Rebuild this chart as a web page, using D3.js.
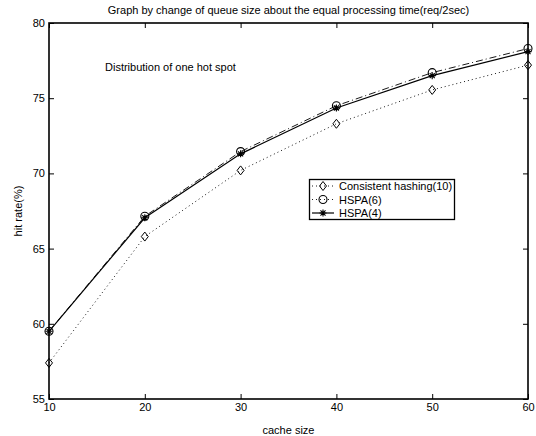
<!DOCTYPE html>
<html>
<head>
<meta charset="utf-8">
<script src="https://cdn.jsdelivr.net/npm/d3@7"></script>
<style>
  html, body { margin: 0; padding: 0; background: #fff; }
  svg { display: block; font-family: "Liberation Sans", Arial, sans-serif; }
</style>
</head>
<body>
<svg id="chart" width="536" height="436"></svg>
<script>
// Hit rate versus cache size for three placement schemes
const cacheSizes = [10, 20, 30, 40, 50, 60];
const consistentHashing = [57.4, 65.8, 70.2, 73.3, 75.55, 77.2];
const hspa6 = [59.5, 67.15, 71.45, 74.5, 76.7, 78.3];
const hspa4 = [59.5, 67.05, 71.3, 74.35, 76.5, 78.1];
const xTicks = [10, 20, 30, 40, 50, 60];
const yTicks = [55, 60, 65, 70, 75, 80];

const series = [
  { name: "Consistent hashing(10)", values: consistentHashing, dash: "1,3", marker: "diamond" },
  { name: "HSPA(6)", values: hspa6, dash: "7,3,1,3", marker: "circle" },
  { name: "HSPA(4)", values: hspa4, dash: null, marker: "star" }
];

const svg = d3.select("#chart");
const m = { left: 49, right: 528, top: 23, bottom: 399 };

const x = d3.scaleLinear().domain([10, 60]).range([m.left, m.right]);
const y = d3.scaleLinear().domain([55, 80]).range([m.bottom, m.top]);

const tickLen = 5;

// Axes: labelled bottom/left, unlabelled mirror ticks on top/right
svg.append("g").attr("transform", `translate(0,${m.bottom})`)
  .call(d3.axisBottom(x).tickValues(xTicks).tickSize(-tickLen).tickPadding(4).tickSizeOuter(0))
  .call(g => g.select(".domain").remove());
svg.append("g").attr("transform", `translate(0,${m.top})`)
  .call(d3.axisTop(x).tickValues(xTicks).tickSize(-tickLen).tickFormat("").tickSizeOuter(0))
  .call(g => g.select(".domain").remove());
svg.append("g").attr("transform", `translate(${m.left},0)`)
  .call(d3.axisLeft(y).tickValues(yTicks).tickSize(-tickLen).tickPadding(4).tickSizeOuter(0))
  .call(g => g.select(".domain").remove());
svg.append("g").attr("transform", `translate(${m.right},0)`)
  .call(d3.axisRight(y).tickValues(yTicks).tickSize(-tickLen).tickFormat("").tickSizeOuter(0))
  .call(g => g.select(".domain").remove());

svg.selectAll(".tick line").attr("stroke", "#000").attr("stroke-width", 1);
svg.selectAll(".tick text").attr("font-size", 11).attr("fill", "#000")
  .attr("font-family", "Liberation Sans, Arial, sans-serif");

svg.append("rect")
  .attr("x", m.left).attr("y", m.top)
  .attr("width", m.right - m.left).attr("height", m.bottom - m.top)
  .attr("fill", "none").attr("stroke", "#000").attr("stroke-width", 1.6);

// Marker drawing helper
function drawMarker(g, type, cx, cy) {
  if (type === "diamond") {
    g.append("path")
      .attr("d", `M${cx},${cy - 4.5}L${cx + 3.5},${cy}L${cx},${cy + 4.5}L${cx - 3.5},${cy}Z`)
      .attr("fill", "none").attr("stroke", "#000").attr("stroke-width", 1);
  } else if (type === "circle") {
    g.append("circle").attr("cx", cx).attr("cy", cy).attr("r", 4)
      .attr("fill", "none").attr("stroke", "#000").attr("stroke-width", 1.1);
  } else {
    const r = 3.5, d = r * 0.72;
    g.append("path")
      .attr("d", `M${cx - r},${cy}H${cx + r}M${cx},${cy - r}V${cy + r}M${cx - d},${cy - d}L${cx + d},${cy + d}M${cx - d},${cy + d}L${cx + d},${cy - d}`)
      .attr("stroke", "#000").attr("stroke-width", 1.1);
  }
}

const line = d3.line().x((d, i) => x(cacheSizes[i])).y(d => y(d));

series.forEach(s => {
  const g = svg.append("g");
  g.append("path").datum(s.values)
    .attr("d", line)
    .attr("fill", "none").attr("stroke", "#000")
    .attr("stroke-width", s.dash ? 0.9 : 1.2)
    .attr("stroke-dasharray", s.dash);
  s.values.forEach((v, i) => drawMarker(g, s.marker, x(cacheSizes[i]), y(v)));
});

// Legend
const lg = svg.append("g");
lg.append("rect").attr("x", 309.5).attr("y", 179.5).attr("width", 145).attr("height", 40)
  .attr("fill", "#fff").attr("stroke", "#000").attr("stroke-width", 1.3);
series.forEach((s, i) => {
  const ly = 186 + i * 13.5;
  lg.append("line").attr("x1", 312).attr("x2", 334).attr("y1", ly).attr("y2", ly)
    .attr("stroke", "#000").attr("stroke-width", s.dash ? 0.9 : 1.2)
    .attr("stroke-dasharray", s.dash ? "1,3" : null);
  drawMarker(lg, s.marker, 323, ly);
  lg.append("text").attr("x", 339).attr("y", ly + 4).attr("font-size", 11).text(s.name);
});

// Titles and annotations
svg.append("text").attr("x", (m.left + m.right) / 2).attr("y", 14)
  .attr("text-anchor", "middle").attr("font-size", 11).text("Graph by change of queue size about the equal processing time(req/2sec)");
svg.append("text").attr("x", (m.left + m.right) / 2).attr("y", 434)
  .attr("text-anchor", "middle").attr("font-size", 11).text("cache size");
svg.append("text").attr("transform", `translate(22,${(m.top + m.bottom) / 2}) rotate(-90)`)
  .attr("text-anchor", "middle").attr("font-size", 11).text("hit rate(%)");
svg.append("text").attr("x", 105).attr("y", 71).attr("font-size", 11).text("Distribution of one hot spot");
</script>
</body>
</html>
